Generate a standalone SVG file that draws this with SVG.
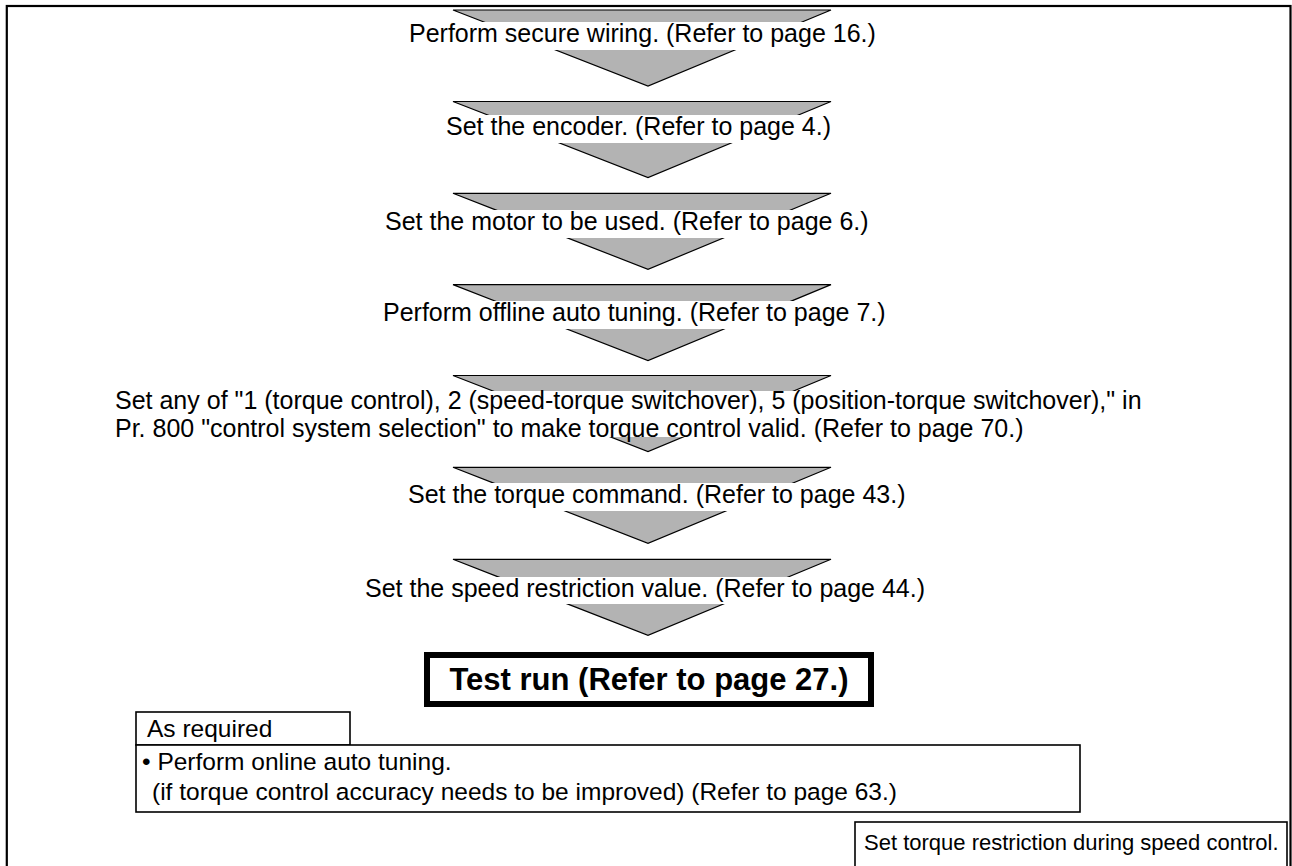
<svg xmlns="http://www.w3.org/2000/svg" width="1292" height="866" viewBox="0 0 1292 866">
<style>
.t{font-family:"Liberation Sans",Arial,sans-serif;font-size:25px;fill:#000}
.s{font-size:24.5px}
.b{font-weight:bold;font-size:31px;text-anchor:middle}
.arrow{fill:#b3b3b3;stroke:#000;stroke-width:1.2}
.bg{fill:#fff;stroke:none}
.box{fill:#fff;stroke:#000;stroke-width:1.6}
</style>
<rect x="0" y="0" width="1292" height="866" fill="#fff"/>
<rect id="frame" x="6.8" y="6" width="1283.7" height="900" fill="none" stroke="#000" stroke-width="2.2"/>
<g id="connectors">
<polygon class="arrow" points="453,10 831,10 648,86"/>
<polygon class="arrow" points="453,101.5 831,101.5 648,177.5"/>
<polygon class="arrow" points="453,193.3 831,193.3 648,269.3"/>
<polygon class="arrow" points="453,284.6 831,284.6 648,360.6"/>
<polygon class="arrow" points="453,375.5 831,375.5 648,451.5"/>
<polygon class="arrow" points="453,467.3 831,467.3 648,543.3"/>
<polygon class="arrow" points="453,559.3 831,559.3 648,635.3"/>
</g>
<g id="step1"><rect class="bg" x="440" y="22" width="405" height="28"/><text class="t" x="409" y="42">Perform secure wiring. (Refer to page 16.)</text></g>
<g id="step2"><rect class="bg" x="440" y="115" width="405" height="28"/><text class="t" x="446" y="135">Set the encoder. (Refer to page 4.)</text></g>
<g id="step3"><rect class="bg" x="440" y="210" width="405" height="28"/><text class="t" x="385" y="230">Set the motor to be used. (Refer to page 6.)</text></g>
<g id="step4"><rect class="bg" x="440" y="301" width="405" height="28"/><text class="t" x="383" y="321">Perform offline auto tuning. (Refer to page 7.)</text></g>
<g id="step5"><rect class="bg" x="440" y="391" width="405" height="46"/><text class="t" x="115" y="409">Set any of "1 (torque control), 2 (speed-torque switchover), 5 (position-torque switchover)," in</text><text class="t" x="115" y="437">Pr. 800 "control system selection" to make torque control valid. (Refer to page 70.)</text></g>
<g id="step6"><rect class="bg" x="440" y="483" width="405" height="28"/><text class="t" x="408" y="503">Set the torque command. (Refer to page 43.)</text></g>
<g id="step7"><rect class="bg" x="440" y="577" width="405" height="27"/><text class="t" x="365" y="597">Set the speed restriction value. (Refer to page 44.)</text></g>
<g id="testrun"><rect x="427" y="655" width="444" height="49" fill="#fff" stroke="#000" stroke-width="6"/><text class="t b" x="649" y="690">Test run (Refer to page 27.)</text></g>
<g id="asrequired"><rect class="box" x="136" y="712" width="214" height="33"/><text class="t s" x="147" y="737">As required</text></g>
<g id="online"><rect class="box" x="136" y="745" width="944" height="67"/><text class="t s" x="142" y="770">• Perform online auto tuning.</text><text class="t s" x="152" y="800">(if torque control accuracy needs to be improved) (Refer to page 63.)</text></g>
<g id="torquerestr"><rect class="box" x="855" y="822" width="432" height="70"/><text class="t" x="864" y="850" style="font-size:22px">Set torque restriction during speed control.</text></g>
</svg>
